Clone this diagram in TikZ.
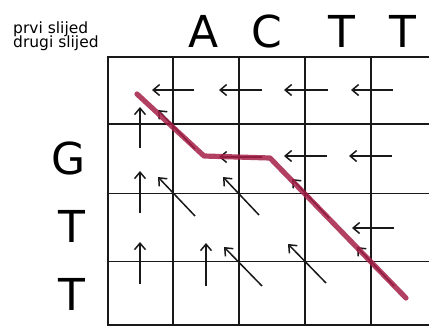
\documentclass[tikz,border=0pt]{standalone}
\usepackage{fontspec}
\setmainfont{DejaVu Sans}
\usetikzlibrary{arrows.meta}
\definecolor{pathred}{RGB}{165,30,70}
\tikzset{
  gridline/.style={line width=1.9pt, draw=black!90},
  arr/.style={line width=1.5pt, draw=black!90, -{Straight Barb[length=6.5pt,width=11pt,line width=1.5pt]}},
  small/.style={font=\fontsize{15.5}{15.5}\selectfont, inner sep=0pt, anchor=base west},
  big/.style={font=\fontsize{44}{44}\selectfont, inner sep=0pt, anchor=base},
  align path/.style={line width=5.2pt, draw=pathred, opacity=0.85, line cap=round, line join=round}
}
\begin{document}
\begin{tikzpicture}[x=1pt,y=-1pt]
\useasboundingbox (0,0) rectangle (429,327);
% labels
\node[small] (prvi) at (13,33) {prvi slijed};
\node[small] (drugi) at (13,47) {drugi slijed};
\node[big] (cA) at (204,47) {A};
\node[big] (cC) at (267,47) {C};
\node[big] (cT1) at (342,47) {T};
\node[big] (cT2) at (403,47) {T};
\node[big] (rG) at (69,174) {G};
\node[big] (rT1) at (72,242) {T};
\node[big] (rT2) at (72,310) {T};
% grid
\foreach \x in {108,173,239,305,371} \draw[gridline] (\x,57) -- (\x,326);
\foreach \y in {57,124,193.5,261.5,325} \draw[gridline] (107,\y) -- (430,\y);
% left arrows
\foreach \a/\b/\y in {194/152/90, 262/219/90, 328/284/90, 393/351/90,
                      262/219/157, 327/284/156, 392/349/156, 394/352/228}
  \draw[arr] (\a,\y) -- (\b,\y);
% up arrows
\foreach \x/\a/\b in {140/148/107, 140/213/171, 140/284/242, 206/286/243}
  \draw[arr] (\x,\a) -- (\x,\b);
% diagonal arrows
\foreach \ax/\ay/\bx/\by in {195/149/158/110, 195/216/158/177, 259/215/223/177,
   329/218/292/179, 262/286/224/247, 326/283/288/244, 394/286/357/247}
  \draw[arr] (\ax,\ay) -- (\bx,\by);
% alignment path
\coordinate (p0) at (137,94);
\coordinate (p1) at (204,156);
\coordinate (p2) at (270,158);
\coordinate (p3) at (406,298);
\draw[align path] (p0) -- (p1) -- (p2) -- (p3);
\end{tikzpicture}
\end{document}
